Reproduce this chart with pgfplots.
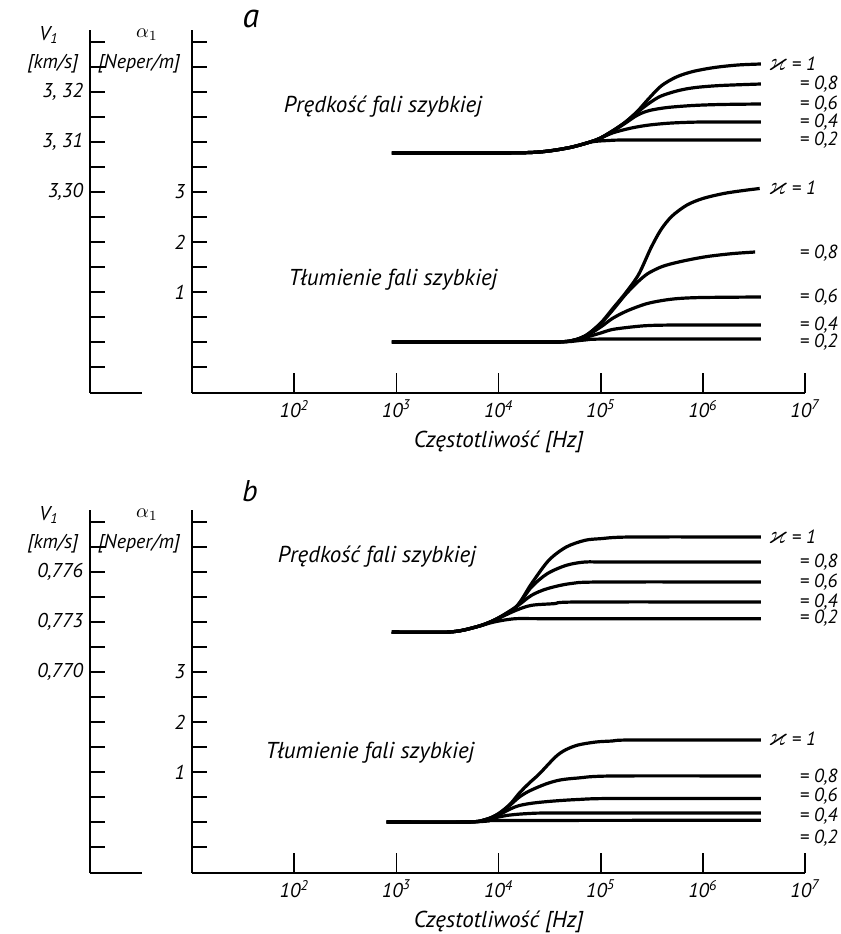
\documentclass[border=0pt]{standalone}
\usepackage{amsmath,amssymb}
\usepackage{fontspec}
\setmainfont{PT Sans}
\usepackage{pgfplots}
\pgfplotsset{compat=1.18}

\newcommand\lbig{\itshape\fontsize{11.5}{13}\selectfont}
\newcommand\lsml{\itshape\fontsize{10}{12}\selectfont}
\newcommand\lkap{\itshape\fontsize{9.5}{10}\selectfont}
\newcommand\kap{{\fontsize{13}{13}\selectfont$\varkappa$}}

\pgfplotsset{
  panelaxis/.style={scale only axis, clip=false,
    tick style={black, line width=0.8pt},
    major tick length=7.5pt, scaled y ticks=false, xminorticks=false,
    every tick label/.append style={font=\lsml}},
  noarrow/.style={axis line style={-, line width=1pt},
    every outer x axis line/.append style={-},
    every outer y axis line/.append style={-},
    every inner x axis line/.append style={-},
    every inner y axis line/.append style={-},
    tick align=inside},
  kcurve/.style={black, line width=1.6pt, smooth, mark=none},
}

\begin{document}
\begin{tikzpicture}
\useasboundingbox (0,0) rectangle (420.5pt,467pt);

% ---------------- panel a ----------------
\begin{axis}[panelaxis, xmode=log, at={(45pt,270.5pt)}, anchor=south west,
  width=357.5pt, height=181.5pt, xmin=1, xmax=1e7,
  ymin=3.2598, ymax=3.3324, axis x line=none, axis y line=left,
  ytick={3.265,3.27,3.275,3.28,3.285,3.29,3.295,3.30,3.305,3.31,3.315,3.32,3.325,3.33},
  yticklabels={}, extra y ticks={3.30,3.31,3.32},
  extra y tick labels={{3,30},{3, 31},{3, 32}}, noarrow]
\draw[line width=1pt] (rel axis cs:0,0) -- (rel axis cs:0.0727,0);
% velocity, kappa = 1, 0.8, 0.6, 0.4, 0.2
\addplot[kcurve] coordinates {(9e2,3.3078) (1e4,3.3078) (2.5e4,3.3080) (5e4,3.3089) (9e4,3.3104) (1.3e5,3.3122) (1.75e5,3.3140) (2.3e5,3.3162) (2.9e5,3.3185) (3.9e5,3.3212) (5.5e5,3.3230) (8e5,3.3241) (1.3e6,3.3249) (2.2e6,3.3254) (3.7e6,3.3256)};
\addplot[kcurve] coordinates {(9e2,3.3078) (1e4,3.3078) (2.5e4,3.3080) (5e4,3.3089) (9e4,3.3104) (1.3e5,3.3122) (1.75e5,3.3140) (2.3e5,3.3160) (3e5,3.3178) (3.9e5,3.3192) (5.8e5,3.3203) (8.5e5,3.3209) (1.5e6,3.3213) (3.7e6,3.3216)};
\addplot[kcurve] coordinates {(9e2,3.3078) (1e4,3.3078) (2.5e4,3.3080) (5e4,3.3089) (9e4,3.3104) (1.3e5,3.3121) (1.75e5,3.3138) (2.3e5,3.3154) (3e5,3.3163) (4.5e5,3.3169) (8e5,3.3173) (1.5e6,3.3175) (3.7e6,3.3176)};
\addplot[kcurve] coordinates {(9e2,3.3078) (1e4,3.3078) (2.5e4,3.3080) (5e4,3.3089) (9e4,3.3104) (1.3e5,3.3118) (2e5,3.3128) (3e5,3.3134) (5e5,3.3138) (1e6,3.3140) (3.7e6,3.3140)};
\addplot[kcurve] coordinates {(9e2,3.3078) (1e4,3.3078) (2.5e4,3.3080) (5e4,3.3089) (8e4,3.3100) (1.2e5,3.3103) (2e5,3.3104) (3.7e6,3.3104)};
\end{axis}

\begin{axis}[panelaxis, xmode=log, at={(96.07pt,270.5pt)}, anchor=south west,
  width=306.43pt, height=181.5pt, xmin=10, xmax=1e7,
  ymin=-1.02, ymax=6.24, axis x line=none, axis y line=left,
  ytick={-0.5,0,0.5,1,1.5,2,2.5,3,3.5,4,4.5,5,5.5,6}, yticklabels={},
  extra y ticks={1,2,3}, extra y tick labels={1,2,3}, noarrow]
% attenuation
\addplot[kcurve] coordinates {(9e2,0) (2e4,0) (4.6e4,0.01) (7e4,0.12) (1e5,0.38) (1.3e5,0.66) (1.75e5,0.98) (2.35e5,1.35) (3.1e5,1.88) (3.9e5,2.25) (5e5,2.52) (7e5,2.74) (1e6,2.87) (1.6e6,2.97) (2.5e6,3.03) (3.6e6,3.07)};
\addplot[kcurve] coordinates {(9e2,0) (2e4,0) (4.6e4,0.01) (7e4,0.12) (1e5,0.37) (1.3e5,0.63) (1.75e5,0.95) (2.3e5,1.2) (2.9e5,1.37) (4e5,1.51) (5.8e5,1.6) (8.5e5,1.67) (1.2e6,1.72) (2e6,1.77) (3.25e6,1.8)};
\addplot[kcurve] coordinates {(9e2,0) (2e4,0) (4.6e4,0.01) (7e4,0.11) (1e5,0.3) (1.3e5,0.47) (1.8e5,0.62) (2.75e5,0.76) (4e5,0.83) (5.8e5,0.87) (1e6,0.89) (3.7e6,0.9)};
\addplot[kcurve] coordinates {(9e2,0) (2e4,0) (4.6e4,0.01) (7e4,0.09) (1e5,0.18) (1.3e5,0.25) (2e5,0.3) (3e5,0.33) (6e5,0.34) (3.7e6,0.34)};
\addplot[kcurve] coordinates {(9e2,0) (2e4,0) (4.6e4,0.005) (7e4,0.04) (1.2e5,0.06) (3.7e6,0.06)};
\end{axis}

\begin{axis}[panelaxis, xmode=log, at={(96.07pt,270.5pt)}, anchor=south west,
  width=306.43pt, height=181.5pt, xmin=10, xmax=1e7, ymin=0, ymax=1,
  axis y line=none, axis x line=bottom, major tick length=10pt,
  xtick={1e2,1e3,1e4,1e5,1e6,1e7},
  xticklabels={10\textsuperscript{2},10\textsuperscript{3},10\textsuperscript{4},10\textsuperscript{5},10\textsuperscript{6},10\textsuperscript{7}},
  xlabel={Częstotliwość [Hz]}, xlabel style={font=\lbig}, noarrow]
\end{axis}

% ---------------- panel b ----------------
\begin{axis}[panelaxis, xmode=log, at={(45pt,30.5pt)}, anchor=south west,
  width=357.5pt, height=181.5pt, xmin=1, xmax=1e7,
  ymin=0.75794, ymax=0.77972, axis x line=none, axis y line=left,
  ytick={0.7595,0.761,0.7625,0.764,0.7655,0.767,0.7685,0.770,0.7715,0.773,0.7745,0.776,0.7775,0.779},
  yticklabels={}, extra y ticks={0.770,0.773,0.776},
  extra y tick labels={{0,770},{0,773},{0,776}}, noarrow]
\draw[line width=1pt] (rel axis cs:0,0) -- (rel axis cs:0.0727,0);
\addplot[kcurve] coordinates {(9e2,0.7724) (3.3e3,0.7724) (6e3,0.7727) (9e3,0.7731) (1.48e4,0.7739) (2.1e4,0.7753) (3.1e4,0.7767) (4.6e4,0.7775) (7e4,0.7779) (1e5,0.7780) (2e5,0.7781) (3.7e6,0.7781)};
\addplot[kcurve] coordinates {(9e2,0.7724) (3.3e3,0.7724) (6e3,0.7727) (9e3,0.7731) (1.48e4,0.7739) (2.1e4,0.7751) (3e4,0.7759) (4.6e4,0.7764) (7e4,0.7766) (1.2e5,0.7766) (3.7e6,0.7766)};
\addplot[kcurve] coordinates {(9e2,0.7724) (3.3e3,0.7724) (6e3,0.7727) (9e3,0.7731) (1.48e4,0.7739) (2.1e4,0.7746) (3e4,0.7750) (5e4,0.7753) (1e5,0.7754) (3.7e6,0.7754)};
\addplot[kcurve] coordinates {(9e2,0.7724) (3.3e3,0.7724) (6e3,0.7727) (9e3,0.7731) (1.48e4,0.7737) (2.1e4,0.7740) (3.5e4,0.7741) (6e4,0.7742) (3.7e6,0.7742)};
\addplot[kcurve] coordinates {(9e2,0.7724) (3.3e3,0.7724) (6e3,0.7727) (9e3,0.7730) (1.48e4,0.7732) (3e4,0.7732) (3.7e6,0.7732)};
\end{axis}

\begin{axis}[panelaxis, xmode=log, at={(96.07pt,30.5pt)}, anchor=south west,
  width=306.43pt, height=181.5pt, xmin=10, xmax=1e7,
  ymin=-1.02, ymax=6.24, axis x line=none, axis y line=left,
  ytick={-0.5,0,0.5,1,1.5,2,2.5,3,3.5,4,4.5,5,5.5,6}, yticklabels={},
  extra y ticks={1,2,3}, extra y tick labels={1,2,3}, noarrow]
\addplot[kcurve] coordinates {(8e2,0) (5e3,0) (7.5e3,0.05) (1e4,0.17) (1.3e4,0.36) (1.6e4,0.58) (2e4,0.78) (2.5e4,0.96) (3.6e4,1.3) (4.5e4,1.44) (6e4,1.54) (9e4,1.6) (1.3e5,1.62) (2e5,1.64) (3.7e6,1.64)};
\addplot[kcurve] coordinates {(8e2,0) (5e3,0) (7.5e3,0.05) (1e4,0.16) (1.3e4,0.34) (1.6e4,0.5) (2e4,0.62) (2.9e4,0.76) (4e4,0.84) (6e4,0.88) (1.3e5,0.92) (3.7e6,0.92)};
\addplot[kcurve] coordinates {(8e2,0) (5e3,0) (7.5e3,0.05) (1e4,0.14) (1.3e4,0.26) (1.6e4,0.33) (2.2e4,0.38) (3.5e4,0.42) (6e4,0.45) (1.3e5,0.47) (3.7e6,0.47)};
\addplot[kcurve] coordinates {(8e2,0) (5e3,0) (7.5e3,0.04) (1e4,0.1) (1.3e4,0.14) (2e4,0.17) (4e4,0.18) (3.7e6,0.18)};
\addplot[kcurve] coordinates {(8e2,0) (5e3,0) (8e3,0.02) (1.2e4,0.03) (3.7e6,0.035)};
\end{axis}

\begin{axis}[panelaxis, xmode=log, at={(96.07pt,30.5pt)}, anchor=south west,
  width=306.43pt, height=181.5pt, xmin=10, xmax=1e7, ymin=0, ymax=1,
  axis y line=none, axis x line=bottom, major tick length=10pt,
  xtick={1e2,1e3,1e4,1e5,1e6,1e7},
  xticklabels={10\textsuperscript{2},10\textsuperscript{3},10\textsuperscript{4},10\textsuperscript{5},10\textsuperscript{6},10\textsuperscript{7}},
  xlabel={Częstotliwość [Hz]}, xlabel style={font=\lbig}, noarrow]
\end{axis}

% ---------------- texts ----------------
\node[font=\itshape\fontsize{17}{17}\selectfont] at (125.5pt,457.5pt) {a};
\node[font=\itshape\fontsize{15}{15}\selectfont] at (125pt,221.5pt) {b};
\foreach \dy in {0,240} {
  \node[font=\lsml] at (24.5pt,449.5pt-\dy pt) {V\textsubscript{1}};
  \node[font=\lsml] at (26.5pt,435pt-\dy pt) {[km/s]};
  \node[font=\lsml] at (73.5pt,449.5pt-\dy pt) {$\alpha_1$};
  \node[font=\lsml] at (69.5pt,435pt-\dy pt) {[Neper/m]};
}
\node[font=\lbig] at (191.5pt,413.5pt) {Prędkość fali szybkiej};
\node[font=\lbig] at (196.5pt,327pt) {Tłumienie fali szybkiej};
\node[font=\lbig] at (188.5pt,188.5pt) {Prędkość fali szybkiej};
\node[font=\lbig] at (185pt,90.5pt) {Tłumienie fali szybkiej};

\begin{scope}[every node/.style={font=\lkap, inner sep=0pt}]
\node[anchor=west] at (384pt,435pt) {\kap\ = 1};
\node[anchor=east] at (419pt,425pt) {= 0,8};
\node[anchor=east] at (419pt,415pt) {= 0,6};
\node[anchor=east] at (419pt,406pt) {= 0,4};
\node[anchor=east] at (419pt,397pt) {= 0,2};
\node[anchor=west] at (384pt,373pt) {\kap\ = 1};
\node[anchor=east] at (419pt,340.5pt) {= 0,8};
\node[anchor=east] at (419pt,318.5pt) {= 0,6};
\node[anchor=east] at (419pt,304.5pt) {= 0,4};
\node[anchor=east] at (419pt,296pt) {= 0,2};
\node[anchor=west] at (384pt,198.5pt) {\kap\ = 1};
\node[anchor=east] at (419pt,186pt) {= 0,8};
\node[anchor=east] at (419pt,176pt) {= 0,6};
\node[anchor=east] at (419pt,166pt) {= 0,4};
\node[anchor=east] at (419pt,158pt) {= 0,2};
\node[anchor=west] at (384pt,97.5pt) {\kap\ = 1};
\node[anchor=east] at (419pt,78.5pt) {= 0,8};
\node[anchor=east] at (419pt,69pt) {= 0,6};
\node[anchor=east] at (419pt,59pt) {= 0,4};
\node[anchor=east] at (419pt,48pt) {= 0,2};
\end{scope}
\end{tikzpicture}
\end{document}
